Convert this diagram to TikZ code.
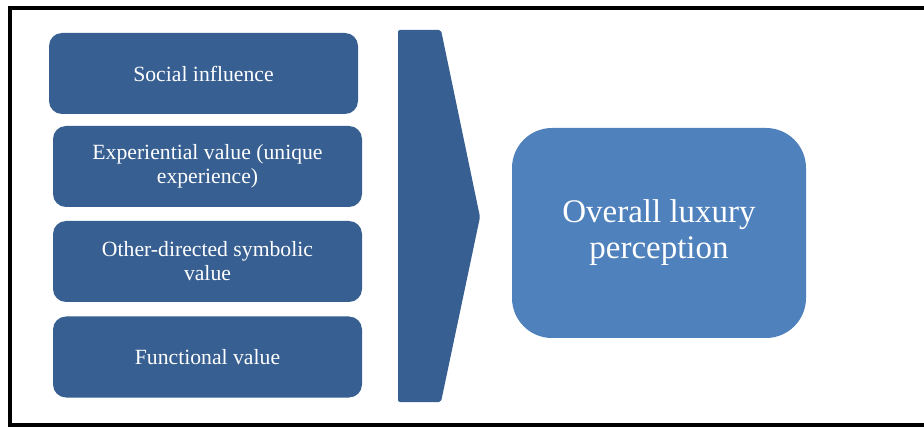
\documentclass[tikz,border=0pt]{standalone}
\usepackage{fontspec}
\setmainfont{Liberation Serif}
\usepackage{xcolor}
\usetikzlibrary{positioning}
\definecolor{factorblue}{HTML}{375F91}
\definecolor{outcomeblue}{HTML}{4F81BD}

\begin{document}
\begin{tikzpicture}[x=1pt, y=1pt,
    factorbox/.style={fill=factorblue, rounded corners=13pt, text=white,
        minimum width=309pt, minimum height=81pt, inner sep=0pt,
        align=center, font=\fontsize{21.7}{24}\selectfont},
    outcomebox/.style={fill=outcomeblue, rounded corners=40pt, text=white,
        minimum width=294pt, minimum height=210pt, inner sep=0pt,
        align=center, font=\fontsize{33}{36}\selectfont}]
    \clip (0,0) rectangle (924,426);
    % frame, open on the right
    \draw[line width=4pt] (940,417.5) -- (9.5,417.5) -- (9.5,1.5) -- (940,1.5);

    % the four factors
    \node[factorbox] (social) at (203.5,352.5) {Social influence};
    \node[factorbox] (experiential) at (207.5,259.5)
        {Experiential value (unique\\experience)};
    \node[factorbox] (symbolic) at (207.5,164.5)
        {Other-directed symbolic\\value};
    \node[factorbox] (functional) at (207.5,69) {Functional value};

    % chevron
    \coordinate (chevtl) at (398,396);
    \coordinate (chevtip) at (480,209);
    \coordinate (chevbl) at (398,24);
    \fill[factorblue, rounded corners=2pt]
        (chevtl) -- (441,396) -- (chevtip) -- (441,24) -- (chevbl) -- cycle;

    \node[outcomebox] (overall) at (659,193) {Overall luxury\\perception};
\end{tikzpicture}
\end{document}
